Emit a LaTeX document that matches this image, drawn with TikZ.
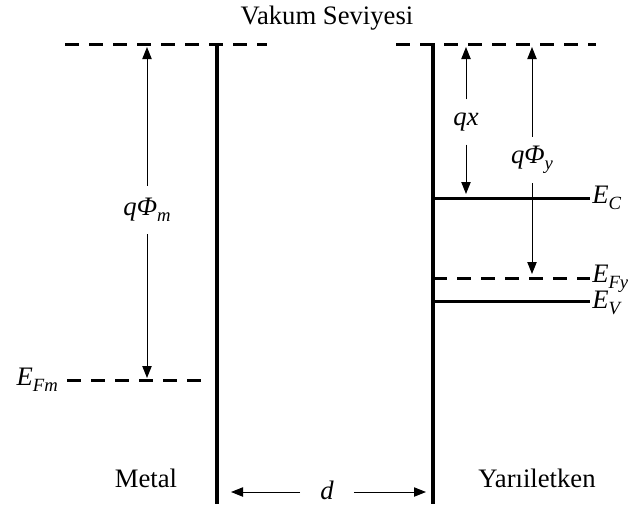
\documentclass[tikz,border=0pt]{standalone}
\usepackage{fontspec}
\setmainfont{Liberation Serif}
\usetikzlibrary{arrows.meta}
\newcommand{\sbs}[1]{\raisebox{-0.5ex}{\fontsize{14}{14}\selectfont\itshape #1}}
\tikzset{
  txt/.style={font=\fontsize{20}{22}\selectfont, inner sep=0pt},
  mlab/.style={font=\fontsize{20}{22}\selectfont\itshape, inner sep=0pt},
  dashline/.style={line width=2.25pt, dash pattern=on 10.5pt off 7.5pt},
  wall/.style={line width=3.5pt},
  band/.style={line width=2.25pt},
  arr/.style={line width=0.75pt, -{Triangle[length=9pt,width=7pt]}}
}
\begin{document}
\begin{tikzpicture}[x=0.75pt,y=-0.75pt]
\useasboundingbox (0,0) rectangle (633,512);
% title
\node[txt] (title) at (327,18) {Vakum Seviyesi};
% coordinates
\coordinate (vl1) at (65,44);  \coordinate (vl2) at (267,44);
\coordinate (vr1) at (396,44); \coordinate (vr2) at (596,44);
\coordinate (mtop) at (217,43); \coordinate (mbot) at (217,504);
\coordinate (stop) at (433,43); \coordinate (sbot) at (433,504);
\coordinate (fm1) at (67,380); \coordinate (fm2) at (204,380);
\coordinate (ec1) at (433,198); \coordinate (ec2) at (590,198);
\coordinate (fy1) at (433,278); \coordinate (fy2) at (590,278);
\coordinate (ev1) at (433,301); \coordinate (ev2) at (590,301);
% vacuum levels
\draw[dashline] (vl1) -- (vl2);
\draw[dashline] (vr1) -- (vr2);
% walls
\draw[wall] (mtop) -- (mbot);
\draw[wall] (stop) -- (sbot);
% metal Fermi level
\draw[dashline] (fm1) -- (fm2);
\node[mlab, anchor=east] (efm) at (58,380) {E\sbs{Fm}};
% semiconductor bands
\draw[band] (ec1) -- (ec2);
\draw[dashline] (fy1) -- (fy2);
\draw[band] (ev1) -- (ev2);
\node[mlab, anchor=west] (ec) at (592,198) {E\sbs{C}};
\node[mlab, anchor=west] (efy) at (592,279) {E\sbs{Fy}};
\node[mlab, anchor=west] (ev) at (592,303) {E\sbs{V}};
% q Phi_m
\coordinate (pmt) at (147,47); \coordinate (pmb) at (147,378);
\node[mlab, inner ysep=9pt] (phim) at (147,210) {qΦ\sbs{m}};
\draw[arr] (phim) -- (pmt);
\draw[arr] (phim) -- (pmb);
% q x
\coordinate (qxt) at (466,47); \coordinate (qxb) at (466,194);
\node[mlab, inner ysep=10pt] (qx) at (466,122) {qx};
\draw[arr] (qx) -- (qxt);
\draw[arr] (qx) -- (qxb);
% q Phi_y
\coordinate (pyt) at (532,47); \coordinate (pyb) at (532,274);
\node[mlab, inner ysep=7pt] (phiy) at (532,160) {qΦ\sbs{y}};
\draw[arr] (phiy.north -| pyt) -- (pyt);
\draw[arr] (phiy.south -| pyt) -- (pyb);
% labels
\node[txt] (metal) at (146,478) {Metal};
\node[txt] (semi) at (537,478) {Yarıiletken};
% d
\coordinate (dl) at (231,492); \coordinate (dr) at (426,492);
\node[mlab, inner xsep=15pt] (d) at (327,490) {d};
\draw[arr] (d.west |- dl) -- (dl);
\draw[arr] (d.east |- dr) -- (dr);
\end{tikzpicture}
\end{document}
